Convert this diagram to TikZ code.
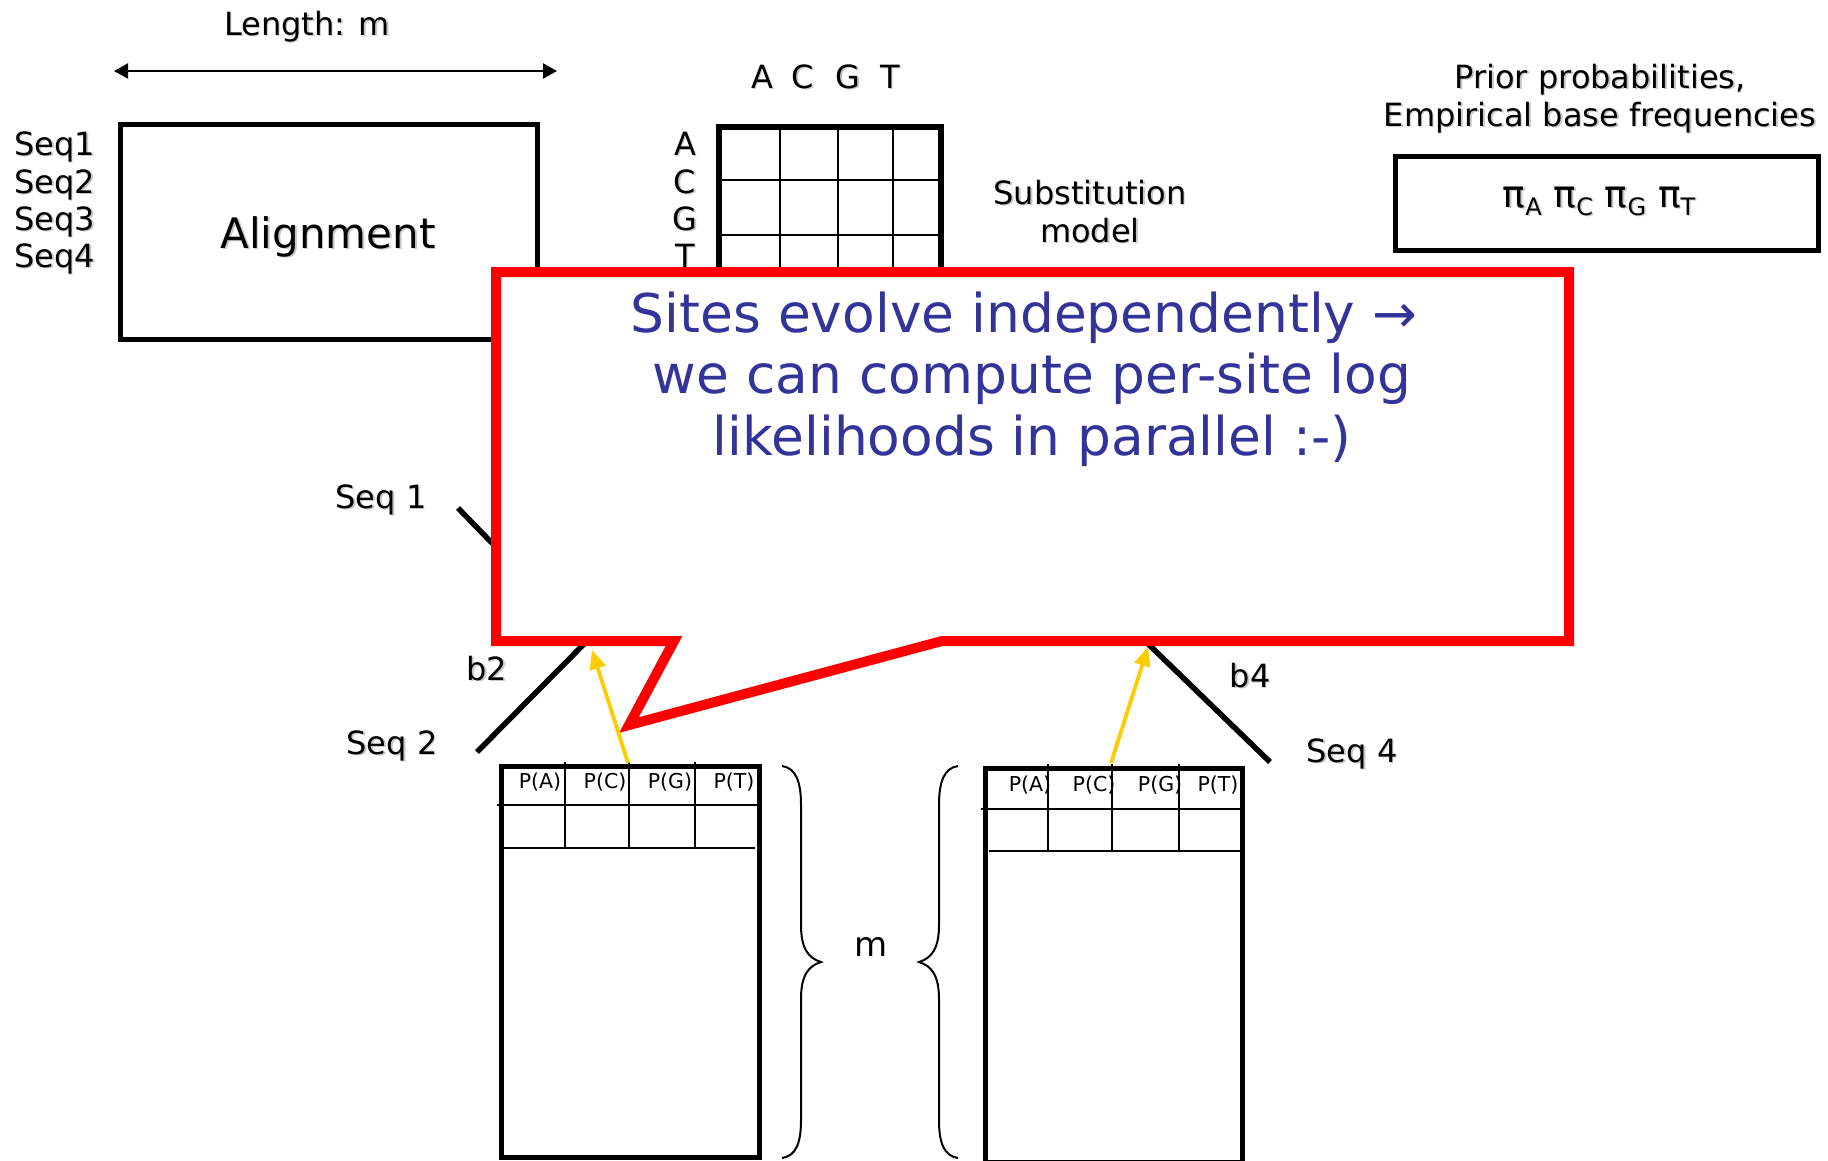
\documentclass[tikz,border=0pt]{standalone}
\usepackage{fontspec}
\setmainfont{DejaVu Sans}
\usetikzlibrary{arrows.meta}
\definecolor{calloutred}{RGB}{255,0,0}
\definecolor{callouttext}{RGB}{51,51,153}
\definecolor{arrowgold}{RGB}{255,204,0}
\definecolor{shadowgray}{RGB}{200,200,200}
\newcommand\shtxt[1]{\rlap{\kern1.6pt\raisebox{-1.6pt}{\color{shadowgray}#1}}#1}
\newcommand\pisub[1]{π\raisebox{-8pt}{\fontsize{24}{27}\selectfont #1}}
\tikzset{
  lbl/.style={font=\fontsize{32}{38}\selectfont, inner sep=0pt, anchor=base},
  biglbl/.style={font=\fontsize{42}{50}\selectfont, inner sep=0pt, anchor=base},
  smalllbl/.style={font=\fontsize{20.5}{24}\selectfont, inner sep=0pt, anchor=base},
  calltext/.style={font=\fontsize{53.4}{64}\selectfont, inner sep=0pt, anchor=base, text=callouttext},
  thickbox/.style={draw=black, line width=5pt},
  gridbox/.style={draw=black, line width=5.5pt},
  thinline/.style={draw=black, line width=2pt},
  branch/.style={draw=black, line width=5.5pt},
  bracepath/.style={draw=black, line width=2pt},
  goldarrow/.style={draw=arrowgold, line width=3.8pt, -{Triangle[length=19pt,width=16pt,fill=arrowgold]}},
  callout/.style={draw=calloutred, fill=white, line width=10pt, line join=miter},
}
\begin{document}
\begin{tikzpicture}[x=1pt,y=-1pt]
\useasboundingbox (0,0) rectangle (1828,1160);

% ---- Length arrow
\node[lbl] (len) at (307,35) {\shtxt{Length: m}};
\coordinate (arL) at (114,71);
\coordinate (arR) at (557,71);
\draw[line width=2.2pt, {Triangle[length=14pt,width=15pt]}-{Triangle[length=14pt,width=15pt]}] (arL) -- (arR);

% ---- Alignment
\node[thickbox, minimum width=417pt, minimum height=215.5pt, inner sep=0pt] (alnbox) at (328.5,231.75) {};
\node[biglbl] (alntext) at (328,248) {\shtxt{Alignment}};
\node[lbl, anchor=base west] (seq1) at (14,155) {\shtxt{Seq1}};
\node[lbl, anchor=base west] (seq2) at (14,193) {\shtxt{Seq2}};
\node[lbl, anchor=base west] (seq3) at (14,230) {\shtxt{Seq3}};
\node[lbl, anchor=base west] (seq4) at (14,267) {\shtxt{Seq4}};

% ---- Substitution matrix
\node[lbl] (hA) at (762,88) {\shtxt{A}};
\node[lbl] (hC) at (803,88) {\shtxt{C}};
\node[lbl] (hG) at (848,88) {\shtxt{G}};
\node[lbl] (hT) at (890,88) {\shtxt{T}};
\node[lbl] (rA) at (685,155) {\shtxt{A}};
\node[lbl] (rC) at (685,193) {\shtxt{C}};
\node[lbl] (rG) at (685,230) {\shtxt{G}};
\node[lbl] (rT) at (685,267) {\shtxt{T}};
\draw[thinline] (719,180) -- (941,180);
\draw[thinline] (719,235) -- (941,235);
\draw[thinline] (719,290) -- (941,290);
\draw[draw=black, line width=1.5pt] (780,127) -- (780,343);
\draw[draw=black, line width=1.5pt] (838,127) -- (838,343);
\draw[draw=black, line width=1.5pt] (893,127) -- (893,343);
\draw[gridbox] (719,127) rectangle (941,343);
\node[lbl] (sub1) at (1090,204) {\shtxt{Substitution}};
\node[lbl] (sub2) at (1090,242) {\shtxt{model}};

% ---- Prior probabilities
\node[lbl] (pr1) at (1600,88) {\shtxt{Prior probabilities,}};
\node[lbl] (pr2) at (1600,126) {\shtxt{Empirical base frequencies}};
\node[thickbox, minimum width=423.5pt, minimum height=94pt, inner sep=0pt] (pibox) at (1606.75,203.5) {};
\node[font=\fontsize{37.5}{42}\selectfont, inner sep=0pt, anchor=base] (pitext) at (1599,207) {\shtxt{\pisub{A} \pisub{C} \pisub{G} \pisub{T}}};

% ---- Tree
\coordinate (s1) at (458,508);
\coordinate (n12) at (587,641);
\coordinate (s2) at (477,752);
\coordinate (s4) at (1270,762);
\coordinate (n34) at (1141,637);
\draw[branch] (s1) -- (n12);
\draw[branch] (s2) -- (n12);
\draw[branch] (s4) -- (n34);
\node[lbl] (tseq1) at (381,508) {\shtxt{Seq 1}};
\node[lbl] (tb2) at (487,680) {\shtxt{b2}};
\node[lbl] (tseq2) at (392,754) {\shtxt{Seq 2}};
\node[lbl] (tb4) at (1250,687) {\shtxt{b4}};
\node[lbl] (tseq4) at (1352,762) {\shtxt{Seq 4}};

% ---- Callout
\draw[callout] (496,272) -- (1569,272) -- (1569,641) -- (942,641) -- (629,725) -- (674,641) -- (496,641) -- cycle;
\node[calltext] (c1) at (1024,332) {Sites evolve independently →};
\node[calltext] (c2) at (1032,393) {we can compute per-site log};
\node[calltext] (c3) at (1032,455) {likelihoods in parallel :-)};

% ---- Left table
\draw[thinline] (497,805) -- (759,805);
\draw[thinline] (504,848) -- (755,848);
\draw[thinline] (565,762) -- (565,848);
\draw[thinline] (629,762) -- (629,848);
\draw[thinline] (695,762) -- (695,848);
\draw[thickbox] (501,766) rectangle (759,1157);
\node[smalllbl] (lpa) at (540,788) {P(A)};
\node[smalllbl] (lpc) at (605,788) {P(C)};
\node[smalllbl] (lpg) at (670,788) {P(G)};
\node[smalllbl] (lpt) at (734,788) {P(T)};

% ---- Right table
\draw[thinline] (981,809) -- (1242,809);
\draw[thinline] (989,851) -- (1240,851);
\draw[thinline] (1048,764) -- (1048,851);
\draw[thinline] (1112,764) -- (1112,851);
\draw[thinline] (1179,764) -- (1179,851);
\draw[thickbox] (985,768) rectangle (1242,1162);
\node[smalllbl] (rpa) at (1030,791) {P(A)};
\node[smalllbl] (rpc) at (1094,791) {P(C)};
\node[smalllbl] (rpg) at (1160,791) {P(G)};
\node[smalllbl] (rpt) at (1218,791) {P(T)};

% ---- Braces and m
\draw[bracepath] (782,766) .. controls (796,768) and (801,782) .. (801,805) -- (801,925) .. controls (801,948) and (808,958) .. (821,962) .. controls (808,966) and (801,976) .. (801,999) -- (801,1120) .. controls (801,1143) and (796,1156) .. (782,1158);
\draw[bracepath] (958,766) .. controls (944,768) and (939,782) .. (939,805) -- (939,925) .. controls (939,948) and (932,958) .. (919,962) .. controls (932,966) and (939,976) .. (939,999) -- (939,1120) .. controls (939,1143) and (944,1156) .. (958,1158);
\node[font=\fontsize{34}{40}\selectfont, inner sep=0pt, anchor=base] (mlbl) at (871,956) {m};

% ---- Yellow arrows
\coordinate (ya1) at (628,763);
\coordinate (yb1) at (592,650);
\coordinate (ya2) at (1111,763);
\coordinate (yb2) at (1148,647);
\draw[goldarrow] (ya1) -- (yb1);
\draw[goldarrow] (ya2) -- (yb2);
\end{tikzpicture}
\end{document}
